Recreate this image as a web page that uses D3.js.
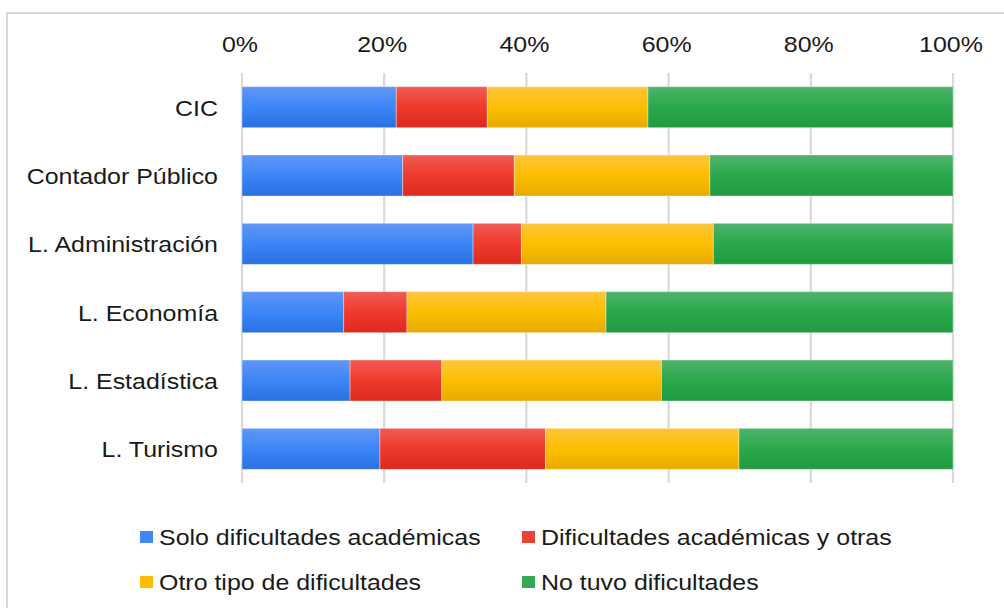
<!DOCTYPE html>
<html>
<head>
<meta charset="utf-8">
<script src="https://cdn.jsdelivr.net/npm/d3@7/dist/d3.min.js"></script>
<style>
  body { margin: 0; background: #fff; }
  text { font-family: "Liberation Sans", Arial, sans-serif; fill: #1a1a1a; }
</style>
</head>
<body>
<svg id="chart" width="1004" height="608"></svg>
<script>
// data (shares per career, %)
const careers = ["CIC", "Contador Público", "L. Administración", "L. Economía", "L. Estadística", "L. Turismo"];
const seriesNames = ["Solo dificultades académicas", "Dificultades académicas y otras", "Otro tipo de dificultades", "No tuvo dificultades"];
const soloAcad = [21.7, 22.6, 32.5, 14.3, 15.2, 19.4];
const acadOtras = [12.8, 15.7, 6.8, 8.9, 12.9, 23.3];
const otroTipo = [22.6, 27.5, 27.0, 28.0, 30.9, 27.2];
const noTuvo = [42.9, 34.2, 33.7, 48.8, 41.0, 30.1];
const tickValues = [0, 20, 40, 60, 80, 100];

const colors = ["#4285f4", "#ea4335", "#fbbc04", "#34a853"];
const grads = [
  ["#6196f6", "#3c86f7", "#2a70e0"],
  ["#f05c55", "#ee3a2c", "#dc2a1f"],
  ["#ffc53d", "#fdbf00", "#e6aa00"],
  ["#4fb36c", "#2aa84b", "#229a42"]
];

const table = careers.map((c, i) => ({
  career: c,
  s0: soloAcad[i], s1: acadOtras[i], s2: otroTipo[i], s3: noTuvo[i]
}));
const keys = ["s0", "s1", "s2", "s3"];

const svg = d3.select("#chart");
const TX = 1.085; // text is slightly wide in the reference

// outer frame
svg.append("rect")
  .attr("x", 7).attr("y", 13)
  .attr("width", 1100).attr("height", 700)
  .attr("fill", "none")
  .attr("stroke", "#d9d9d9")
  .attr("stroke-width", 2);

const defs = svg.append("defs");
grads.forEach((g, i) => {
  const lg = defs.append("linearGradient")
    .attr("id", "g" + i)
    .attr("x1", 0).attr("y1", 0).attr("x2", 0).attr("y2", 1);
  lg.append("stop").attr("offset", "0%").attr("stop-color", g[0]);
  lg.append("stop").attr("offset", "50%").attr("stop-color", g[1]);
  lg.append("stop").attr("offset", "100%").attr("stop-color", g[2]);
});

const x = d3.scaleLinear().domain([0, 100]).range([242, 953]);
const y = d3.scaleBand().domain(careers).range([73, 483]).paddingInner(0.4).paddingOuter(0.2);

// gridlines
svg.append("g")
  .selectAll("line")
  .data(tickValues)
  .join("line")
  .attr("x1", d => x(d)).attr("x2", d => x(d))
  .attr("y1", 73).attr("y2", 483)
  .attr("stroke", "#d9d9d9")
  .attr("stroke-width", 2.2);

// tick labels on top
svg.append("g")
  .selectAll("text")
  .data(tickValues)
  .join("text")
  .attr("transform", d => `translate(${x(d) - 2},52) scale(${TX},1)`)
  .attr("text-anchor", "middle")
  .attr("font-size", 23)
  .text(d => d + "%");

// stacked bars
const stack = d3.stack().keys(keys)(table);
svg.append("g")
  .selectAll("g")
  .data(stack)
  .join("g")
  .attr("fill", (d, i) => `url(#g${i})`)
  .selectAll("rect")
  .data(d => d)
  .join("rect")
  .attr("x", d => x(d[0]))
  .attr("y", d => y(d.data.career))
  .attr("width", d => x(d[1]) - x(d[0]))
  .attr("height", y.bandwidth())
  .attr("stroke", "rgba(255,255,255,0.35)")
  .attr("stroke-width", 1);

// category labels
svg.append("g")
  .selectAll("text")
  .data(careers)
  .join("text")
  .attr("transform", d => `translate(218,${y(d) + y.bandwidth() / 2 + 8.5}) scale(${TX},1)`)
  .attr("text-anchor", "end")
  .attr("font-size", 23)
  .text(d => d);

// legend
const legPos = [[140, 531], [522, 531], [140, 576], [522, 576]];
const leg = svg.append("g")
  .selectAll("g")
  .data(seriesNames)
  .join("g")
  .attr("transform", (d, i) => `translate(${legPos[i][0]},${legPos[i][1]})`);
leg.append("rect")
  .attr("width", 13).attr("height", 12)
  .attr("fill", (d, i) => colors[i]);
leg.append("text")
  .attr("transform", `translate(19,14) scale(${TX},1)`)
  .attr("font-size", 23)
  .text(d => d);
</script>
</body>
</html>
